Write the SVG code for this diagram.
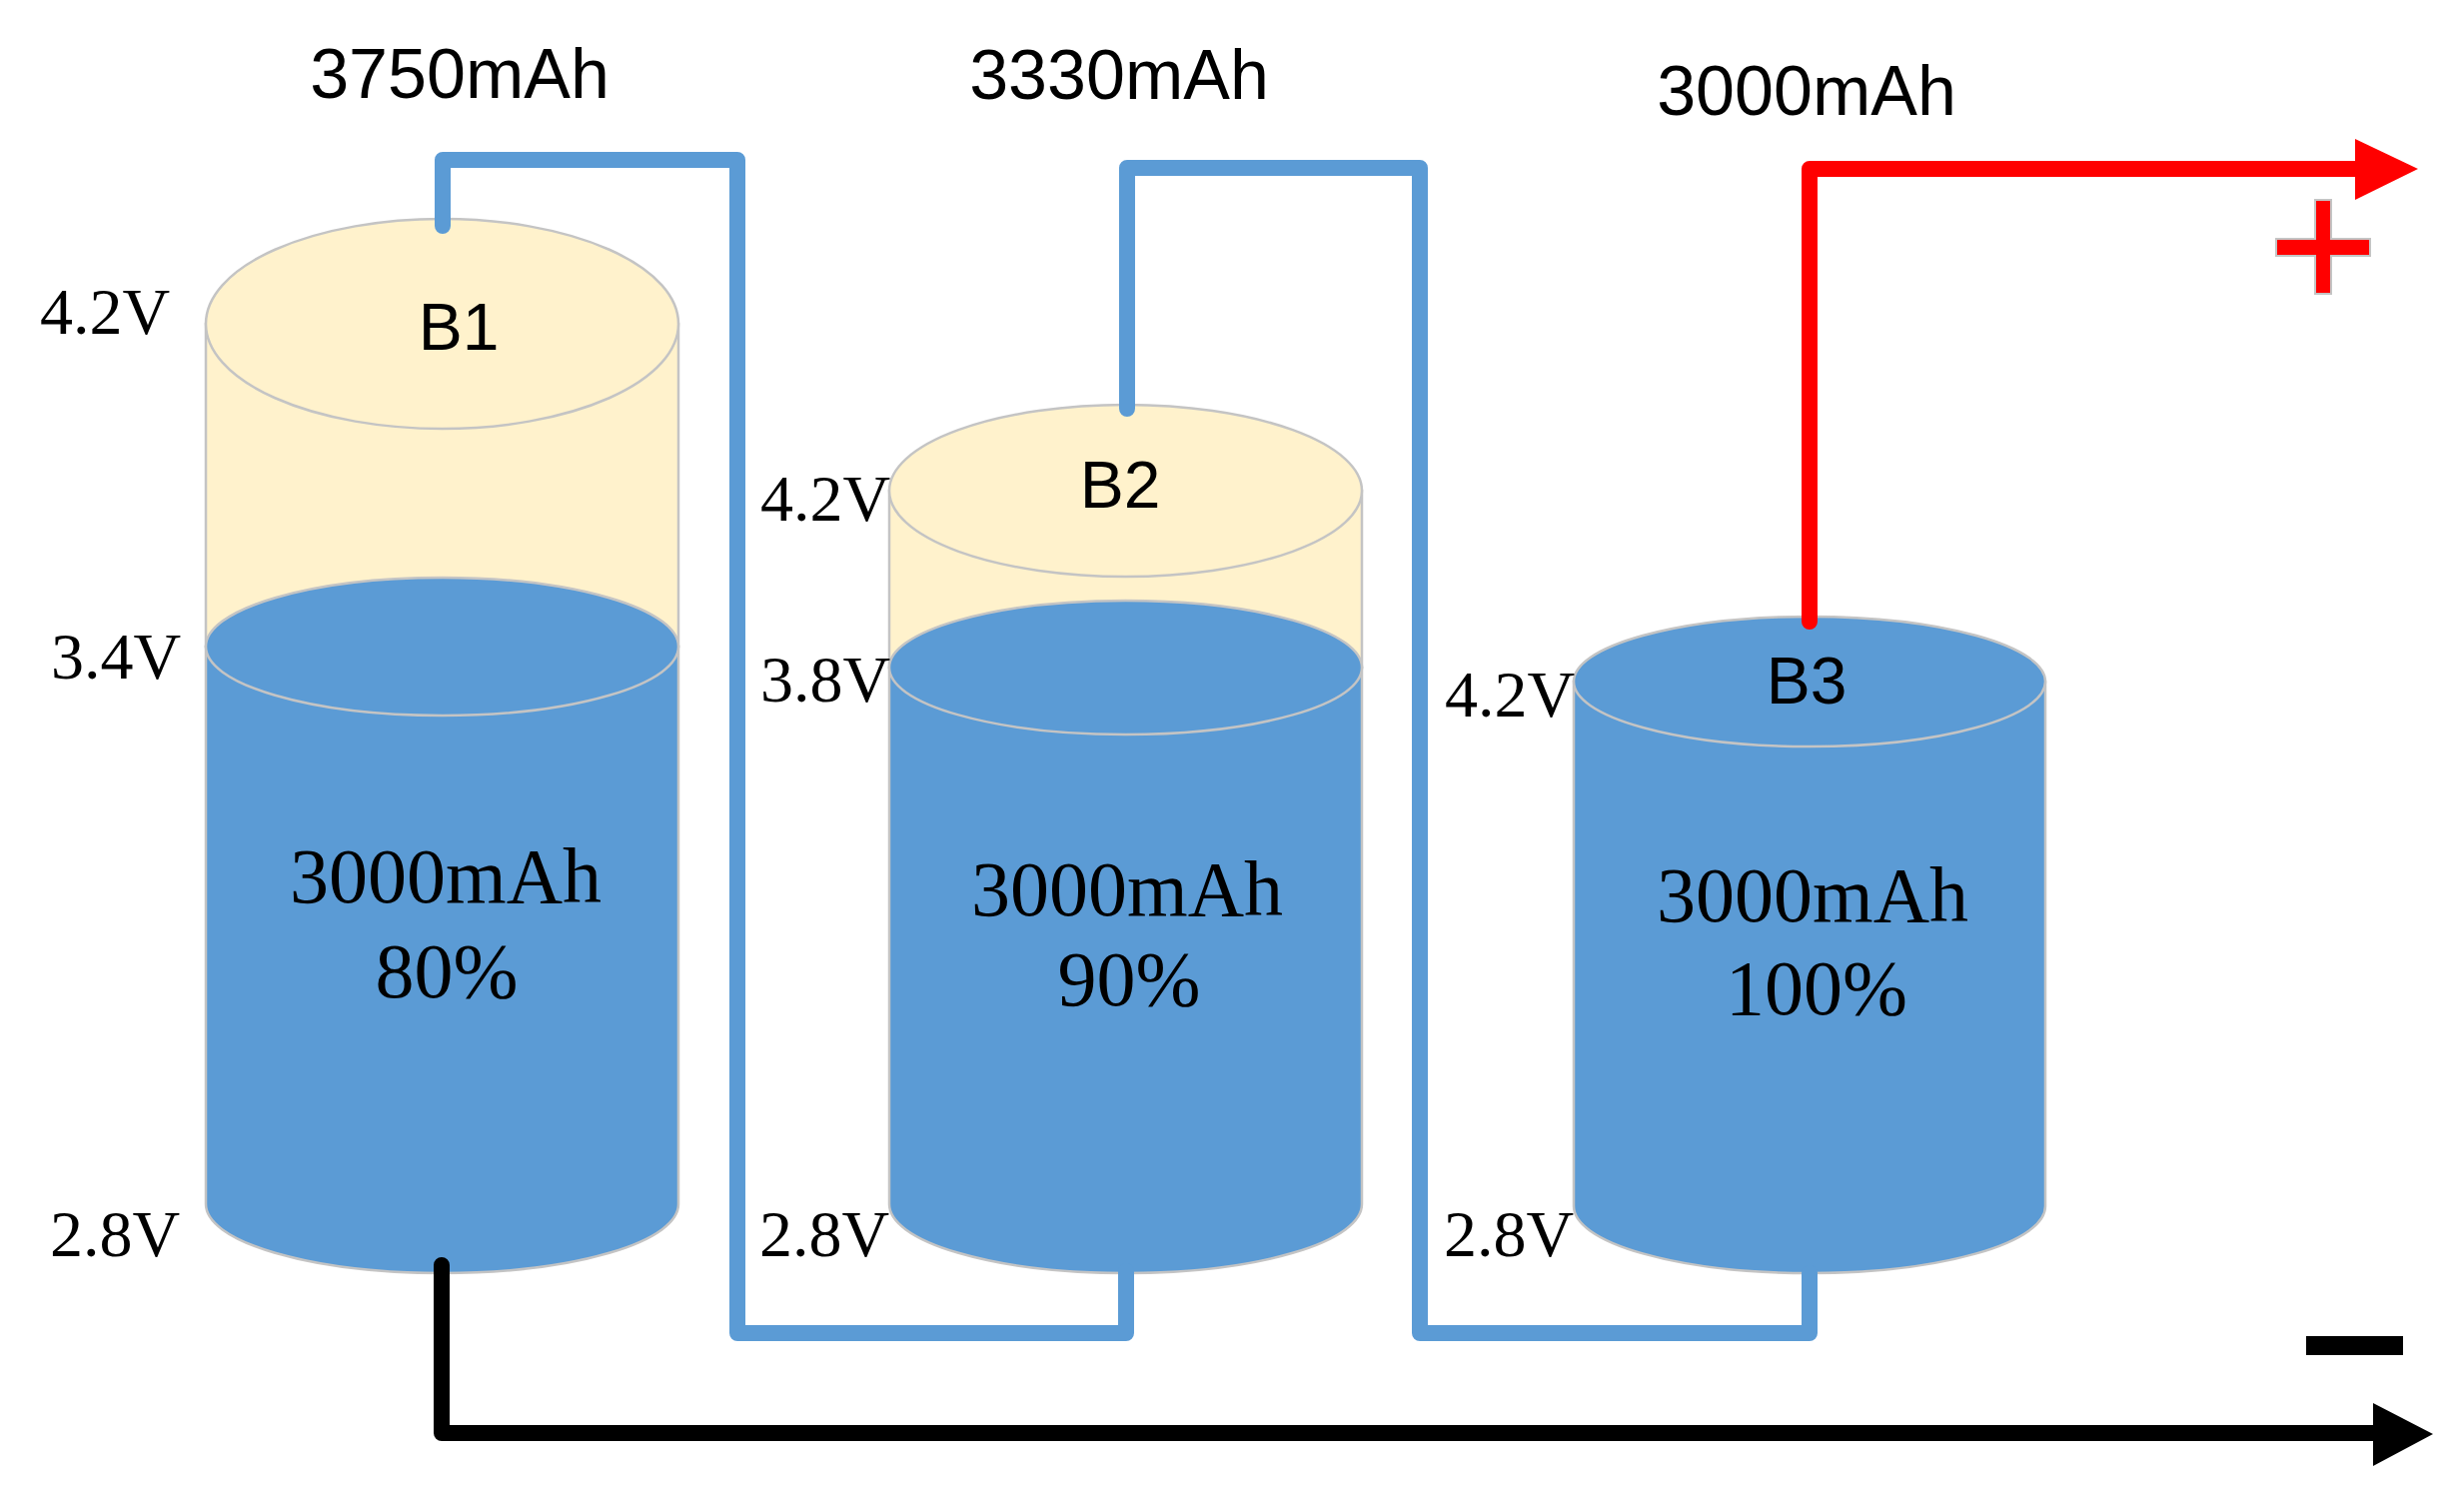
<svg xmlns="http://www.w3.org/2000/svg" width="2466" height="1491" viewBox="0 0 2466 1491">
<style>
.cream{fill:#FFF2CC;stroke:#C4C4C4;stroke-width:2.5}
.blue{fill:#5B9BD5;stroke:#C4C4C4;stroke-width:2.5}
.wire{fill:none;stroke-width:16;stroke-linejoin:round;stroke-linecap:round}
.cap{font-family:"Liberation Sans",Arial,sans-serif;font-size:70px;fill:#000;text-anchor:middle}
.name{font-family:"Liberation Sans",Arial,sans-serif;font-size:66px;fill:#000;text-anchor:middle}
.volt{font-family:"Liberation Serif","Times New Roman",serif;font-size:66px;fill:#000}
.inner{font-family:"Liberation Serif","Times New Roman",serif;font-size:78px;fill:#000;text-anchor:middle}
</style>
<rect width="2466" height="1491" fill="#fff"/>

<g id="B1">
<path class="cream" d="M206,324 L206,647 L679,647 L679,324 Z"/>
<ellipse class="cream" cx="442.5" cy="324" rx="236.5" ry="105"/>
<path class="blue" d="M206,647 L206,1205 A236.5,69 0 0 0 679,1205 L679,647 Z"/>
<ellipse class="blue" cx="442.5" cy="647" rx="236.5" ry="69"/>
<text class="name" x="459" y="350">B1</text>
<text class="inner" x="446" y="903">3000mAh</text>
<text class="inner" x="447" y="998">80%</text>
<text class="volt" x="40" y="334">4.2V</text>
<text class="volt" x="51" y="679">3.4V</text>
<text class="volt" x="50" y="1257">2.8V</text>
<text class="cap" x="460" y="98">3750mAh</text>
</g>

<g id="B2">
<path class="cream" d="M890,491 L890,668 L1363,668 L1363,491 Z"/>
<ellipse class="cream" cx="1126.5" cy="491" rx="236.5" ry="86"/>
<path class="blue" d="M890,668 L890,1205 A236.5,69 0 0 0 1363,1205 L1363,668 Z"/>
<ellipse class="blue" cx="1126.5" cy="668" rx="236.5" ry="67"/>
<text class="name" x="1121" y="508">B2</text>
<text class="inner" x="1128" y="916">3000mAh</text>
<text class="inner" x="1130" y="1006">90%</text>
<text class="volt" x="761" y="521">4.2V</text>
<text class="volt" x="761" y="702">3.8V</text>
<text class="volt" x="760" y="1257">2.8V</text>
<text class="cap" x="1120" y="99">3330mAh</text>
</g>

<g id="B3">
<path class="blue" d="M1575,682 L1575,1207 A236,67 0 0 0 2047,1207 L2047,682 Z"/>
<ellipse class="blue" cx="1811" cy="682" rx="236" ry="65"/>
<text class="name" x="1808" y="704">B3</text>
<text class="inner" x="1814" y="922">3000mAh</text>
<text class="inner" x="1818" y="1015">100%</text>
<text class="volt" x="1446" y="717">4.2V</text>
<text class="volt" x="1445" y="1257">2.8V</text>
<text class="cap" x="1808" y="115">3000mAh</text>
</g>

<g id="connectors">
<path class="wire" stroke="#5B9BD5" d="M443,226 L443,160 L738,160 L738,1334 L1127,1334 L1127,1272"/>
<path class="wire" stroke="#5B9BD5" d="M1128,409 L1128,168 L1421,168 L1421,1334 L1811,1334 L1811,1274"/>
<path class="wire" stroke="#FF0000" d="M1811,622 L1811,169 L2362,169"/>
<polygon fill="#FF0000" points="2357,139 2420,169 2357,200"/>
<path class="wire" stroke="#000" d="M442,1266 L442,1434 L2380,1434"/>
<polygon fill="#000" points="2375,1404 2435,1435 2375,1467"/>
</g>

<g id="plus">
<path d="M2317,200 L2333,200 L2333,239 L2372,239 L2372,256 L2333,256 L2333,294 L2317,294 L2317,256 L2278,256 L2278,239 L2317,239 Z" fill="#FF0000" stroke="#C4C4C4" stroke-width="2"/>
</g>
<g id="minus">
<rect x="2308" y="1337" width="97" height="19" fill="#000"/>
</g>
</svg>
